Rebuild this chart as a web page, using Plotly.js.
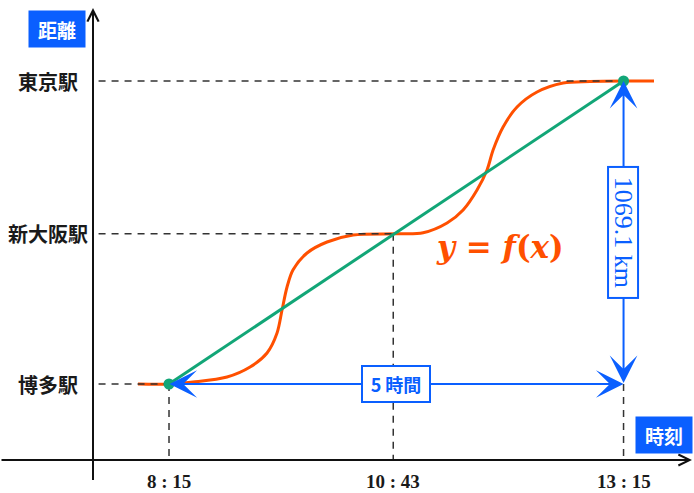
<!DOCTYPE html>
<html><head><meta charset="utf-8">
<script src="https://cdn.plot.ly/plotly-3.0.1.min.js"></script>
<style>html,body{margin:0;padding:0;background:#fff;}#chart{width:694px;height:493px;}</style>
</head><body><div id="chart"></div>
<script>
// ---- data ----
const stations = ['博多駅', '新大阪駅', '東京駅'];
const stationKm = [0, 530, 1069.1];
const timeLabels = ['8 : 15', '10 : 43', '13 : 15'];
const timeMin = [495, 643, 795];           // minutes after midnight
const curveMin = [474.5, 495, 510.8, 533.3, 548.5, 559.7, 566.3, 569.6, 572.9, 576.8, 586.1, 599.3, 616.5, 644.8, 662.7, 678.5, 689.1, 698.3, 704.9, 708.9, 715.5, 724.7, 737.9, 755.1, 772.9, 795.3, 815.1];
const curveKm  = [0, 0, 7.1, 24.7, 60.0, 109.4, 179.9, 261.1, 342.2, 402.2, 462.2, 501.0, 525.7, 530, 533.5, 567.9, 613.9, 684.5, 755.1, 825.6, 906.8, 977.3, 1030.3, 1062.0, 1067.3, 1069.1, 1069.1];
const durationLabel = '5 時間';
const distanceLabel = '1069.1 km';
const curveLabel = '<i>y</i> = <i>f</i>(<i>x</i>)';
const yAxisLabel = '距離';
const xAxisLabel = '時刻';

// ---- style / layout constants ----
const BLUE = '#0a5fff', ORANGE = '#ff5000', GREEN = '#12a677', INK = '#1a1a1a', DASH = '#333333';
const W = 694, H = 493;
const X_RANGE = [383.45, 841.5];
const Y_RANGE = [-384.6, 1354.9];
const AXIS_KM = -268.2; // km at which the horizontal axis sits
const DASH_T0 = 448.5;
const px = v => v / W, py = v => 1 - v / H;
const C = {xanchor: 'center', yanchor: 'middle'};

const first = 0, last = stations.length - 1;

// dashed guide lines
const gx = [], gy = [];
for (let i = 0; i < stations.length; i++) {
  gx.push(DASH_T0, timeMin[i], null); gy.push(stationKm[i], stationKm[i], null);
}
const vStart = [stationKm[first], stationKm[1], stationKm[first]];
for (let i = 0; i < timeMin.length; i++) {
  gx.push(timeMin[i], timeMin[i], null); gy.push(vStart[i], AXIS_KM, null);
}

const traces = [
  {x: curveMin, y: curveKm, mode: 'lines', line: {color: ORANGE, width: 3, shape: 'spline', smoothing: 0.9}, hoverinfo: 'skip'},
  {x: gx, y: gy, mode: 'lines', line: {color: DASH, width: 1.5, dash: '7px,6px'}, hoverinfo: 'skip'},
  {x: [timeMin[first], timeMin[last]], y: [stationKm[first], stationKm[last]], mode: 'lines+markers',
   line: {color: GREEN, width: 3}, marker: {color: GREEN, size: 11}, hoverinfo: 'skip'}
];

const ann = [];
// axes with arrows
ann.push({xref: 'paper', yref: 'paper', x: px(692), y: py(460), ax: -692, ay: 0, text: ' ', font: {size: 1},
  showarrow: true, arrowhead: 5, arrowsize: 1.1, arrowwidth: 2, arrowcolor: '#111', standoff: 0});
ann.push({xref: 'paper', yref: 'paper', x: px(93), y: py(8), ax: 0, ay: 474, text: ' ', font: {size: 1},
  showarrow: true, arrowhead: 5, arrowsize: 1.1, arrowwidth: 2, arrowcolor: '#111', standoff: 0});
// blue double arrows
const arrowCommon = {xref: 'x', yref: 'y', axref: 'x', ayref: 'y', text: ' ', font: {size: 1}, borderpad: 0,
  showarrow: true, arrowside: 'end+start', arrowhead: 3, startarrowhead: 3, arrowsize: 2.3, startarrowsize: 2.3,
  arrowwidth: 2, arrowcolor: BLUE, standoff: 0, startstandoff: 0};
ann.push(Object.assign({}, arrowCommon, {x: timeMin[last], y: stationKm[first], ax: timeMin[first], ay: stationKm[first]}));
ann.push(Object.assign({}, arrowCommon, {x: timeMin[last], y: stationKm[last], ax: timeMin[last], ay: stationKm[first]}));
// station labels
stations.forEach((s, i) => ann.push(Object.assign({xref: 'paper', yref: 'y', x: px(48), y: stationKm[i], text: s, showarrow: false,
  font: {family: 'Noto Sans CJK JP', size: 20, color: INK, weight: 700}}, C)));
// time labels
timeLabels.forEach((t, i) => ann.push(Object.assign({xref: 'x', yref: 'paper', x: timeMin[i], y: py(481), text: t, showarrow: false,
  font: {family: 'Liberation Serif', size: 19, color: INK, weight: 700}}, C)));
// duration box
ann.push(Object.assign({xref: 'x', yref: 'y', x: (timeMin[first] + timeMin[last]) / 2, y: stationKm[first], text: '<b>' + durationLabel + '</b>',
  showarrow: false, bgcolor: '#ffffff', bordercolor: BLUE, borderwidth: 2, borderpad: 0, width: 66, height: 34,
  font: {family: 'Noto Sans CJK JP', size: 18, color: BLUE}}, C));
// distance box
ann.push(Object.assign({xref: 'x', yref: 'y', x: timeMin[last], y: (stationKm[first] + stationKm[last]) / 2, text: distanceLabel, textangle: 90,
  showarrow: false, bgcolor: '#ffffff', bordercolor: BLUE, borderwidth: 2, borderpad: 0, width: 129, height: 28,
  font: {family: 'Liberation Serif', size: 26, color: BLUE}}, C));
// curve label
ann.push(Object.assign({xref: 'paper', yref: 'paper', x: px(500), y: py(247), text: '<b>' + curveLabel + '</b>', showarrow: false,
  font: {family: 'DejaVu Serif', size: 31, color: ORANGE}}, C));
// axis title boxes
ann.push(Object.assign({xref: 'paper', yref: 'paper', x: px(57), y: py(29), text: '<b>' + yAxisLabel + '</b>', showarrow: false,
  bgcolor: BLUE, borderpad: 0, width: 56, height: 36, font: {family: 'Noto Sans CJK JP', size: 19, color: '#ffffff'}}, C));
ann.push(Object.assign({xref: 'paper', yref: 'paper', x: px(664), y: py(434.5), text: '<b>' + xAxisLabel + '</b>', showarrow: false,
  bgcolor: BLUE, borderpad: 0, width: 56, height: 36, font: {family: 'Noto Sans CJK JP', size: 19, color: '#ffffff'}}, C));

const layout = {
  width: W, height: H, margin: {l: 0, r: 0, t: 0, b: 0}, showlegend: false,
  paper_bgcolor: '#ffffff', plot_bgcolor: '#ffffff',
  xaxis: {range: X_RANGE, visible: false, fixedrange: true},
  yaxis: {range: Y_RANGE, visible: false, fixedrange: true},
  annotations: ann
};
Plotly.newPlot('chart', traces, layout, {displayModeBar: false, staticPlot: true});
</script></body></html>
